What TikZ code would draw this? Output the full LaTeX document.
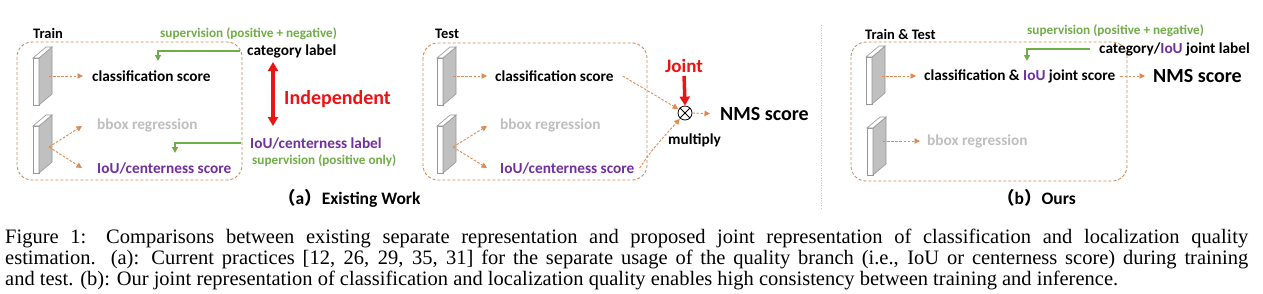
\documentclass[tikz,border=0pt]{standalone}
\usepackage{fontspec}
\setmainfont{Carlito}
\newfontfamily\capfont{Liberation Serif}
\newfontfamily\cjk{Noto Sans CJK SC}
\usetikzlibrary{arrows.meta,calc}
\definecolor{orangeline}{RGB}{222,140,82}
\definecolor{boxline}{RGB}{205,140,95}
\definecolor{supgreen}{RGB}{112,173,71}
\definecolor{purp}{RGB}{112,48,160}
\definecolor{lgray}{RGB}{191,191,191}
\definecolor{redc}{RGB}{235,20,20}
\definecolor{slabgray}{RGB}{192,192,192}
\definecolor{slabedge}{RGB}{150,150,150}
\definecolor{sepgray}{RGB}{200,200,200}
\tikzset{
  lbl/.style={font=\bfseries\fontsize{15.3}{15.3}\selectfont, inner sep=0pt, anchor=west},
  hdr/.style={font=\bfseries\fontsize{14.5}{14.5}\selectfont, inner sep=0pt, anchor=west},
  sup/.style={font=\bfseries\fontsize{13.2}{13.2}\selectfont, text=supgreen, inner sep=0pt, anchor=west},
  big/.style={font=\bfseries\fontsize{20}{20}\selectfont, inner sep=0pt, anchor=west},
  subcap/.style={font=\bfseries\fontsize{17.5}{17.5}\selectfont, inner sep=0pt, anchor=west},
  capline/.style={font=\capfont\fontsize{20.5}{21}\selectfont, inner sep=0pt, anchor=base west},
  dbox/.style={draw=boxline, line width=0.9pt, dash pattern=on 3pt off 2pt, rounded corners=15pt},
  oarr/.style={draw=orangeline, line width=0.9pt, dash pattern=on 2.5pt off 1.6pt, -{Triangle[length=5.5pt,width=5.5pt]}},
  garr/.style={draw=supgreen, line width=1.4pt, -{Triangle[length=6pt,width=6pt]}},
  rarr/.style={draw=redc, line width=3.5pt, -{Triangle[length=9pt,width=10pt]}},
  rdarr/.style={draw=redc, line width=3.5pt, {Triangle[length=9pt,width=10pt]}-{Triangle[length=9pt,width=10pt]}},
  slabpart/.style={draw=slabedge, line width=0.6pt},
  slab/.pic={
    \draw[slabpart, fill=white] (0,0) rectangle (6,47);
    \draw[slabpart, fill=slabgray] (6,0) -- (19,-11) -- (19,36) -- (6,47) -- cycle;
    \draw[slabpart, fill=white] (0,0) -- (13,-11) -- (19,-11) -- (6,0) -- cycle;
  },
}
\begin{document}
\begin{tikzpicture}[x=1pt,y=-1pt]
\useasboundingbox[fill=white] (0,0) rectangle (1263,293);

% ---------------- Panel (a) Train ----------------
\node[hdr] (trainhdr) at (33,33) {Train};
\draw[dbox] (17,42) rectangle (242,180);
\pic at (33,58) {slab};
\pic at (33,126) {slab};
\coordinate (a1o) at (49,76);
\coordinate (a2o) at (49,147);
\coordinate (a2t1) at (82,126);
\coordinate (a2t2) at (82,168);
\node[lbl] (acls) at (92,76) {classification score};
\node[lbl, text=lgray] (abbox) at (97,125) {bbox regression};
\node[lbl, text=purp] (aiou) at (97,168) {IoU/centerness score};
\draw[oarr, shorten >=9pt] (a1o) -- (acls.west);
\draw[oarr] (a2o) -- (a2t1);
\draw[oarr] (a2o) -- (a2t2);

\node[sup] (asup1) at (160,34) {supervision (positive + negative)};
\node[lbl] (acat) at (247,51) {category label};
\coordinate (ag1) at (158,61);
\draw[garr] ([xshift=-7pt]acat.west) -| (ag1);

\coordinate (ind1) at (273,62);
\coordinate (ind2) at (273,126);
\draw[rdarr] (ind1) -- (ind2);
\node[big, text=redc] (indep) at (284,99) {Independent};

\node[lbl, text=purp] (aioulab) at (250,143) {IoU/centerness label};
\node[sup] (asup2) at (252,161) {supervision (positive only)};
\coordinate (ag2) at (175,153);
\draw[garr] ([xshift=-9pt]aioulab.west) -| (ag2);

\node[subcap] (capa) at (278,198) {{\cjk （}a{\cjk ）}Existing Work};

% ---------------- Panel (a) Test ----------------
\node[hdr] (testhdr) at (435,34) {Test};
\draw[dbox] (423,43) rectangle (647,180);
\pic at (437,58) {slab};
\pic at (437,126) {slab};
\coordinate (t1o) at (453,76);
\coordinate (t2o) at (453,147);
\coordinate (t2t1) at (487,126);
\coordinate (t2t2) at (487,168);
\node[lbl] (tcls) at (495,76) {classification score};
\node[lbl, text=lgray] (tbbox) at (500,125) {bbox regression};
\node[lbl, text=purp] (tiou) at (500,168) {IoU/centerness score};
\draw[oarr, shorten >=8pt] (t1o) -- (tcls.west);
\draw[oarr] (t2o) -- (t2t1);
\draw[oarr] (t2o) -- (t2t2);

\node[circle, draw=black, line width=0.8pt, minimum size=14pt, inner sep=0pt] (ot) at (685,113) {};
\draw[line width=0.8pt] (ot.north west) -- (ot.south east);
\draw[line width=0.8pt] (ot.north east) -- (ot.south west);
\node[big, anchor=center, font=\bfseries\fontsize{19}{19}\selectfont, text=redc] (joint) at (684,66) {Joint};
\draw[rarr, shorten <=3pt] (joint.south) -- (ot.north);
\draw[oarr, shorten >=0.5pt] ([xshift=9pt]tcls.east) -- (ot);
\draw[oarr, shorten >=0.5pt] ([xshift=5pt]tiou.east) .. controls (652,150) .. (ot);
\node[big] (nms1) at (720,114) {NMS score};
\draw[oarr, shorten >=10pt] (ot.east) -- (nms1.west);
\node[lbl] (mult) at (668,140) {multiply};

% separator
\draw[sepgray, line width=1pt, dash pattern=on 1pt off 1.5pt] (821,25) -- (821,208);

% ---------------- Panel (b) ----------------
\node[hdr] (bhdr) at (865,34) {Train \& Test};
\draw[dbox] (851,42) rectangle (1127,181);
\pic at (866,57) {slab};
\pic at (867,128) {slab};
\coordinate (b1o) at (882,76);
\coordinate (b2o) at (883,141);
\node[lbl] (bjs) at (924,76) {classification \& \textcolor{purp}{IoU} joint score};
\node[lbl, text=lgray] (bbbox) at (927,141) {bbox regression};
\draw[oarr, shorten >=8pt] (b1o) -- (bjs.west);
\draw[oarr, shorten >=7pt] (b2o) -- (bbbox.west);
\node[big] (nms2) at (1153,76) {NMS score};
\draw[oarr, shorten >=8pt] ([xshift=5pt]bjs.east) -- (nms2.west);

\node[sup] (bsup) at (1027,31) {supervision (positive + negative)};
\node[lbl] (bcat) at (1099,49) {category/\textcolor{purp}{IoU} joint label};
\coordinate (bg1) at (1027,61);
\draw[garr] ([xshift=-9pt]bcat.west) -| (bg1);

\node[subcap] (capb) at (997,198) {{\cjk （}b{\cjk ）}Ours};

% ---------------- Caption ----------------
\node[capline] (cap1) at (5,243) {\makebox[1243pt][s]{Figure 1: Comparisons between existing separate representation and proposed joint representation of classification and localization quality}};
\node[capline] (cap2) at (5,264) {\makebox[1243pt][s]{estimation. (a): Current practices [12, 26, 29, 35, 31] for the separate usage of the quality branch (i.e., IoU or centerness score) during training}};
\node[capline] (cap3) at (5,285) {and test. (b): Our joint representation of classification and localization quality enables high consistency between training and inference.};
\end{tikzpicture}
\end{document}
